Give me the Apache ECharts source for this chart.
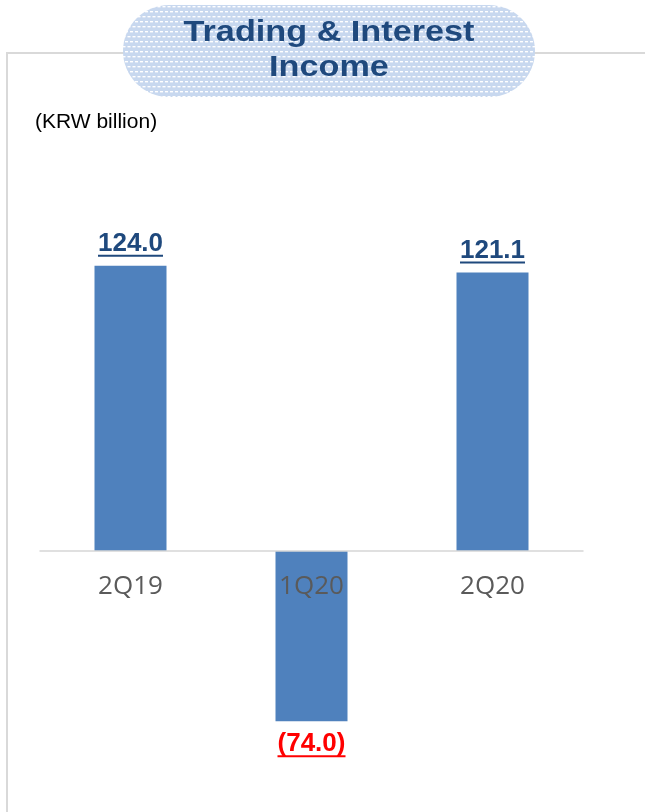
<!DOCTYPE html>
<html>
<head>
<meta charset="utf-8">
<style>
  html, body { margin: 0; padding: 0; background: #ffffff; }
  #chart { width: 645px; height: 812px; }
</style>
<script src="https://cdn.jsdelivr.net/npm/echarts@6/dist/echarts.min.js"></script>
</head>
<body>
<div id="chart"></div>
<script>
// Quarterly trading & interest income, KRW billion
const categories = ['2Q19', '1Q20', '2Q20'];
const incomeValues = [124.0, -74.0, 121.1];

const TITLE_LINES = ['Trading & Interest', 'Income'];
const UNIT_TEXT = '(KRW billion)';

const POS_COLOR = '#1f497d';
const NEG_COLOR = '#ff0000';
const BAR_COLOR = '#4f81bd';
const LABEL_FAMILY = '"Liberation Sans", Arial, sans-serif';
const LABEL_SIZE = 26;

// Plot area: value range and pixel frame
const Y_MIN = -100, Y_MAX = 150;
const GRID_TOP = 206, GRID_HEIGHT = 575;
// distance from the plot bottom up to the zero line
const ZERO_OFFSET = GRID_HEIGHT * (0 - Y_MIN) / (Y_MAX - Y_MIN);

// Negative figures are shown in parentheses
function formatValue(v) {
  const s = Math.abs(v).toFixed(1);
  return v < 0 ? '(' + s + ')' : s;
}

// Width of a label's text, used to size its underline
const measureCtx = document.createElement('canvas').getContext('2d');
function textWidth(str) {
  measureCtx.font = 'bold ' + LABEL_SIZE + 'px ' + LABEL_FAMILY;
  return Math.round(measureCtx.measureText(str).width);
}

// Dotted light-blue fill for the title badge
function badgePattern() {
  const c = document.createElement('canvas');
  c.width = 10; c.height = 10;
  const g = c.getContext('2d');
  g.fillStyle = '#c8d8ef';
  g.fillRect(0, 0, 10, 10);
  g.fillStyle = '#ffffff';
  g.fillRect(0, 1, 3, 1.4);
  g.fillRect(5, 1, 3, 1.4);
  g.fillRect(2.5, 6, 3, 1.4);
  g.fillRect(7.5, 6, 3, 1.4);
  g.fillRect(-2.5, 6, 3, 1.4);
  return c;
}

const barData = incomeValues.map(function (v) {
  const txt = formatValue(v);
  const color = v < 0 ? NEG_COLOR : POS_COLOR;
  return {
    value: v,
    label: {
      position: v < 0 ? 'bottom' : 'top',
      distance: v < 0 ? 12 : 9,
      formatter: '{v|' + txt + '}\n{u|}',
      rich: {
        v: {
          fontFamily: LABEL_FAMILY, fontSize: LABEL_SIZE, fontWeight: 'bold',
          color: color, lineHeight: 22, align: 'center'
        },
        u: { width: textWidth(txt), height: 2, lineHeight: 2, backgroundColor: color, align: 'center' }
      }
    }
  };
});

const chart = echarts.init(document.getElementById('chart'), null, { renderer: 'canvas' });

chart.setOption({
  animation: false,
  backgroundColor: '#ffffff',
  grid: { left: 40, right: 62, top: GRID_TOP, height: GRID_HEIGHT, outerBoundsMode: 'none', containLabel: false },
  xAxis: {
    type: 'category',
    data: categories,
    z: 10,
    position: 'bottom',
    offset: -ZERO_OFFSET,
    axisLine: { onZero: false, lineStyle: { color: '#d6d6d6', width: 1.5 } },
    axisTick: { show: false },
    axisLabel: {
      margin: 23,
      color: '#5a5a5a',
      fontFamily: '"Open Sans", "Noto Sans", sans-serif',
      fontSize: 26
    }
  },
  yAxis: {
    type: 'value',
    min: Y_MIN,
    max: Y_MAX,
    show: false,
    splitLine: { show: false }
  },
  series: [{
    type: 'bar',
    data: barData,
    barWidth: 72,
    itemStyle: { color: BAR_COLOR },
    label: { show: true, align: 'center' }
  }],
  graphic: [
    // panel frame
    { type: 'line', z: 1, shape: { x1: 7, y1: 53, x2: 645, y2: 53 }, style: { stroke: '#d9d9d9', lineWidth: 2 } },
    { type: 'line', z: 1, shape: { x1: 7, y1: 52, x2: 7, y2: 812 }, style: { stroke: '#d9d9d9', lineWidth: 2 } },
    // title badge
    {
      type: 'rect', z: 5,
      shape: { x: 123, y: 5, width: 412, height: 92, r: 46 },
      style: { fill: { image: badgePattern(), repeat: 'repeat' } }
    },
    {
      type: 'text', z: 6,
      x: 329, y: 50, scaleX: 1.18, scaleY: 1,
      style: {
        text: TITLE_LINES.join('\n'),
        font: 'bold 29px "Liberation Sans", Arial, sans-serif',
        fill: POS_COLOR,
        align: 'center',
        verticalAlign: 'middle',
        lineHeight: 35
      }
    },
    {
      type: 'text', z: 6,
      x: 35, y: 122,
      style: {
        text: UNIT_TEXT,
        font: '21px "Liberation Sans", Arial, sans-serif',
        fill: '#000000',
        align: 'left',
        verticalAlign: 'middle'
      }
    }
  ]
});
</script>
</body>
</html>
